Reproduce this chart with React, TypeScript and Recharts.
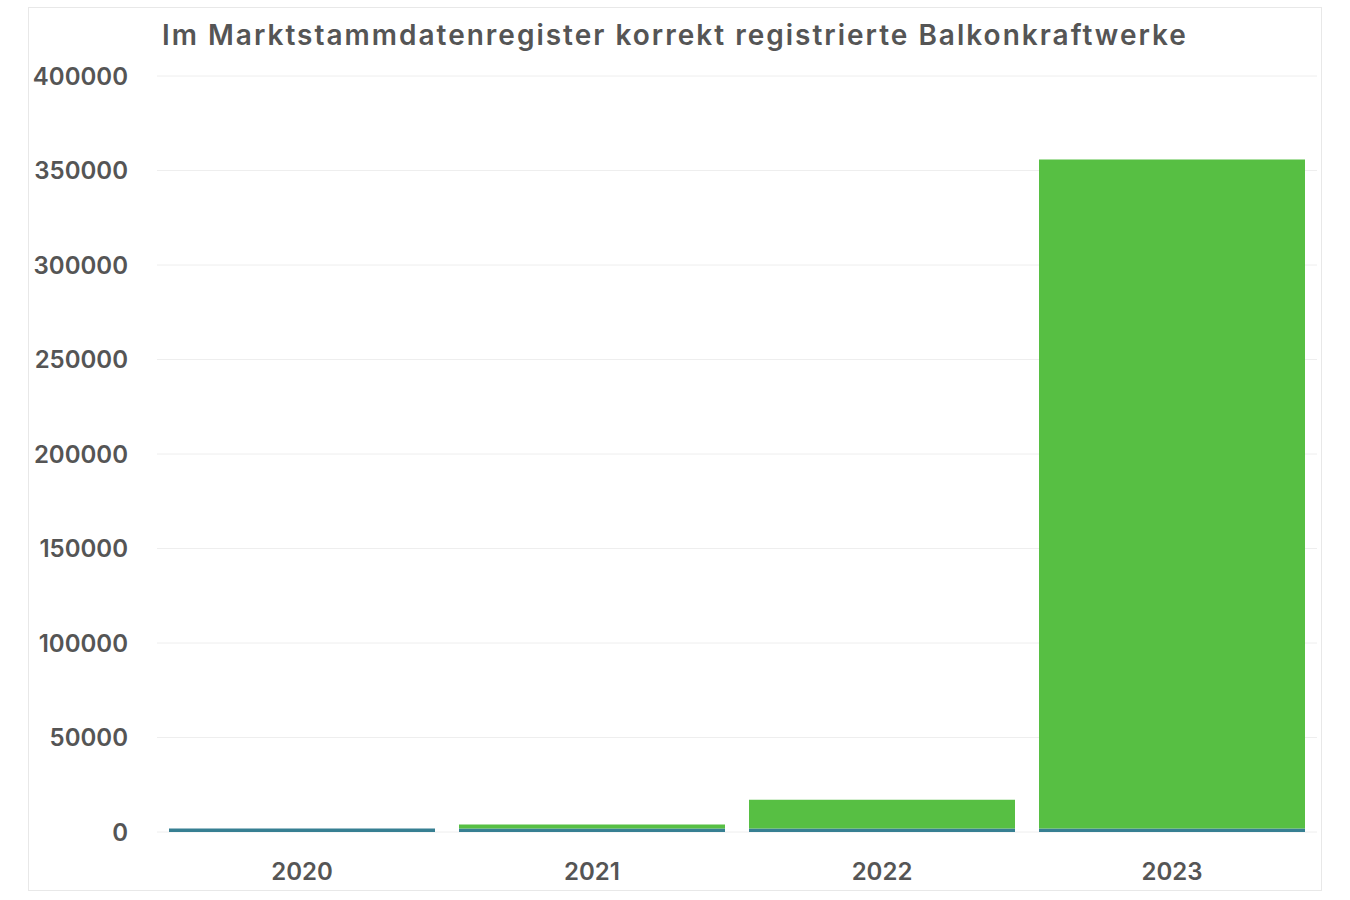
import { BarChart, Bar, XAxis, YAxis, CartesianGrid } from 'recharts'

const years = ['2020', '2021', '2022', '2023']
const bisVorjahr = [1800, 1800, 1800, 1800]
const neuImJahr = [0, 2200, 15200, 354000]
const yTicks = [0, 50000, 100000, 150000, 200000, 250000, 300000, 350000, 400000]

const data = years.map((year, i) => ({
  year,
  blue: bisVorjahr[i],
  green: neuImJahr[i],
}))

const font = 'Inter, "Open Sans", sans-serif'
const tickStyle = { fontSize: 24, fontWeight: 600, fill: '#555555', fontFamily: font }

export default function App() {
  return (
    <div style={{ position: 'absolute', left: 0, top: 0, width: 1350, height: 900, background: '#fff' }}>
      <div
        style={{
          position: 'absolute',
          left: 28,
          top: 7,
          width: 1292,
          height: 882,
          border: '1px solid #e8e8e8',
        }}
      />
      <div
        style={{
          position: 'absolute',
          left: 162,
          top: 15,
          fontFamily: font,
          fontSize: 28,
          fontWeight: 600,
          letterSpacing: 2,
          color: '#555555',
          whiteSpace: 'nowrap',
          lineHeight: '40px',
        }}
      >
        Im Marktstammdatenregister korrekt registrierte Balkonkraftwerke
      </div>
      <div style={{ position: 'absolute', left: 0, top: 0 }}>
        <BarChart
          width={1350}
          height={900}
          data={data}
          margin={{ top: 76, right: 33, left: 0, bottom: 0 }}
          barCategoryGap={12}
        >
          <CartesianGrid vertical={false} stroke="#eeeeee" />
          <XAxis
            dataKey="year"
            height={68}
            tickLine={false}
            axisLine={false}
            tickSize={0}
            tickMargin={31}
            tick={tickStyle}
          />
          <YAxis
            width={157}
            domain={[0, 400000]}
            ticks={yTicks}
            tickLine={false}
            axisLine={false}
            tickSize={0}
            tickMargin={29}
            tick={tickStyle}
          />
          <Bar dataKey="blue" stackId="a" fill="#377f92" isAnimationActive={false} />
          <Bar dataKey="green" stackId="a" fill="#57bf43" isAnimationActive={false} />
        </BarChart>
      </div>
    </div>
  )
}
